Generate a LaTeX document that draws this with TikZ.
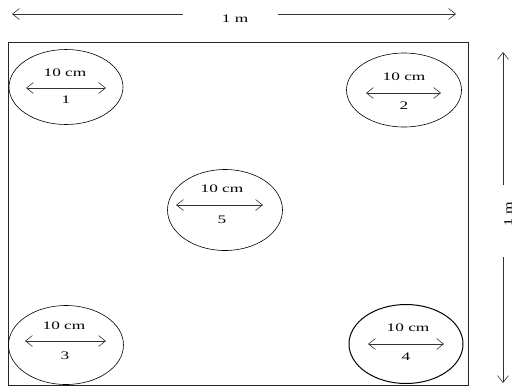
\documentclass[tikz,border=0pt]{standalone}
\usepackage{fontspec}
\setmainfont{Liberation Serif}
\usetikzlibrary{arrows.meta,shapes.geometric}
\newcommand{\wtxt}[1]{\scalebox{1.5}[1]{#1}}
\begin{document}
\begin{tikzpicture}[x=1pt,y=-1pt,
  ln/.style={line width=0.6pt,draw=black!80},
  arr/.style={ln,-{Straight Barb[length=7pt,width=11pt]}},
  dbl/.style={ln,{Straight Barb[length=7pt,width=11pt]}-{Straight Barb[length=7pt,width=11pt]}},
  hole/.style={ellipse,draw,line width=0.6pt,inner sep=0pt},
  lbl/.style={inner sep=0pt,font=\fontsize{11.5}{13}\selectfont}]
\useasboundingbox (0,0) rectangle (513,389);
% frame
\node[draw,line width=0.7pt,draw=black!85,minimum width=460pt,minimum height=343pt,inner sep=0pt,anchor=north west] (frame) at (8,42) {};
% top dimension
\node[lbl] (tw) at (235,19) {\wtxt{1 m}};
\coordinate (tl) at (12,14);
\coordinate (tla) at (183,14);
\coordinate (tra) at (278,14);
\coordinate (tr) at (456,14);
\draw[arr] (tla) -- (tl);
\draw[arr] (tra) -- (tr);
% right dimension
\node[lbl,rotate=90] (rh) at (508,214) {\scalebox{1.4}[1]{1 m}};
\coordinate (rt) at (503,52);
\coordinate (rta) at (503,185);
\coordinate (rba) at (503,257);
\coordinate (rb) at (503,383);
\draw[arr] (rta) -- (rt);
\draw[arr] (rba) -- (rb);
% hole 1
\node[hole,minimum width=114pt,minimum height=75pt] (e1) at (66,87) {};
\node[lbl] (c1) at (65,73) {\wtxt{10 cm}};
\node[lbl] (n1) at (66,100) {\wtxt{1}};
\coordinate (a1l) at (26,88); \coordinate (a1r) at (106,88);
\draw[dbl] (a1l) -- (a1r);
% hole 2
\node[hole,minimum width=115pt,minimum height=74pt] (e2) at (404,90) {};
\node[lbl] (c2) at (404,77) {\wtxt{10 cm}};
\node[lbl] (n2) at (404,106) {\wtxt{2}};
\coordinate (a2l) at (366,93); \coordinate (a2r) at (441,93);
\draw[dbl] (a2l) -- (a2r);
% hole 5
\node[hole,minimum width=115pt,minimum height=81pt] (e5) at (225,210) {};
\node[lbl] (c5) at (222,189) {\wtxt{10 cm}};
\node[lbl] (n5) at (222,220) {\wtxt{5}};
\coordinate (a5l) at (176,205); \coordinate (a5r) at (263,205);
\draw[dbl] (a5l) -- (a5r);
% hole 3
\node[hole,minimum width=115pt,minimum height=79pt] (e3) at (66,345) {};
\node[lbl] (c3) at (64,326) {\wtxt{10 cm}};
\node[lbl] (n3) at (65,356) {\wtxt{3}};
\coordinate (a3l) at (25,341); \coordinate (a3r) at (106,341);
\draw[dbl] (a3l) -- (a3r);
% hole 4
\node[hole,line width=1pt,minimum width=114pt,minimum height=79pt] (e4) at (406,344) {};
\node[lbl] (c4) at (408,328) {\wtxt{10 cm}};
\node[lbl] (n4) at (406,357) {\wtxt{4}};
\coordinate (a4l) at (368,344); \coordinate (a4r) at (444,344);
\draw[dbl] (a4l) -- (a4r);
\end{tikzpicture}
\end{document}
